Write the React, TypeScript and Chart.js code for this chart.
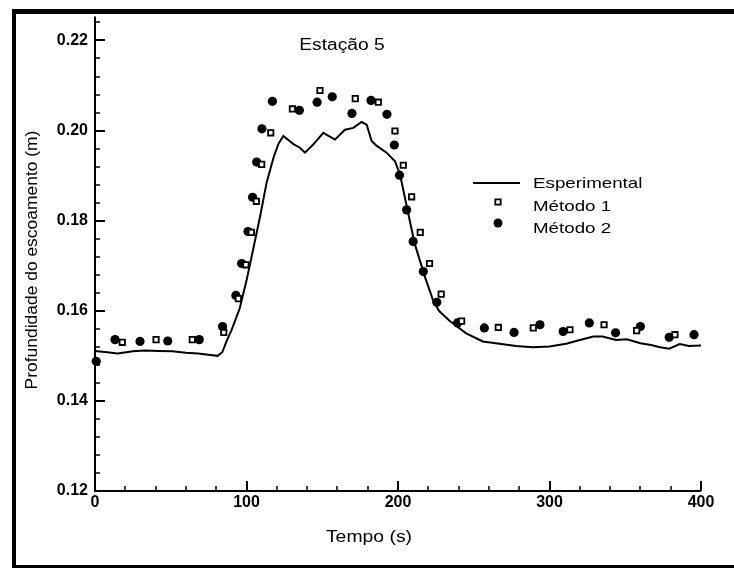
import { useEffect, useRef } from "react";
import { Chart, registerables } from "chart.js";

Chart.register(...registerables);

// ---------------- data ----------------
const chartTitle = "Estação 5";
const xAxisTitle = "Tempo (s)";
const yAxisTitle = "Profundidade do escoamento (m)";
const seriesNames = ["Esperimental", "Método 1", "Método 2"];

const xMajorTicks = [0, 100, 200, 300, 400];
const yMajorTicks = [0.12, 0.14, 0.16, 0.18, 0.2, 0.22];
const xMinorStep = 20;
const yMinorStep = 0.004;
const xRange = [0, 400];
const yRange = [0.12, 0.2253];

const expTime = [
  0, 8, 15, 25, 33, 42, 51, 60, 68, 76, 81, 84, 87, 90, 95.5, 100, 103.5, 109,
  113.3, 118, 121, 124.3, 131, 135.3, 138.6, 144, 150.7, 158.4, 165, 170.5, 176,
  179.3, 182.6, 186, 192.5, 198, 201.3, 206, 211, 218, 223, 227, 234, 245, 256,
  267, 278, 289, 300, 311, 320, 329, 335, 344, 351, 360, 367, 373, 379, 386, 392,
  400,
];
const expDepth = [
  0.1511, 0.1508, 0.1505, 0.151, 0.1512, 0.1511, 0.151, 0.1507, 0.1505, 0.1502,
  0.15, 0.1508, 0.1534, 0.1556, 0.1605, 0.1667, 0.1722, 0.181, 0.1885, 0.1942,
  0.197, 0.1988, 0.197, 0.1962, 0.1951, 0.1969, 0.1995, 0.198, 0.2002, 0.2006,
  0.2019, 0.2013, 0.1977, 0.1966, 0.1951, 0.1932, 0.1903, 0.1828, 0.1749, 0.1673,
  0.1625, 0.16, 0.1578, 0.155, 0.1532, 0.1527, 0.1522, 0.1519, 0.1521, 0.1527,
  0.1535, 0.1543, 0.1543, 0.1535, 0.1537, 0.1528, 0.1524, 0.1519, 0.1516, 0.1526,
  0.1522, 0.1523,
];

const m1Time = [
  18, 40.3, 64.2, 85, 94.6, 99.6, 103.2, 106.5, 110, 116, 130.3, 148.5, 171.8,
  187, 198, 203.5, 209, 214.7, 220.8, 228.5, 242, 266.2, 289.3, 313.5, 336,
  357.5, 382.8,
];
const m1Depth = [
  0.153, 0.1536, 0.1536, 0.1552, 0.1627, 0.1702, 0.1774, 0.1843, 0.1925, 0.1995,
  0.2048, 0.2089, 0.2071, 0.2063, 0.1999, 0.1923, 0.1853, 0.1774, 0.1705, 0.1637,
  0.1577, 0.1563, 0.1562, 0.1558, 0.1569, 0.1556, 0.1547,
];

const m2Time = [
  0.8, 13.2, 29.7, 48, 68.8, 84.2, 93, 96.8, 101, 104, 106.7, 110.2, 117.1,
  134.9, 146.6, 156.6, 169.6, 182.2, 192.7, 197.6, 201, 205.7, 210, 216.7, 225.6,
  239.3, 257, 276.6, 293.7, 309, 326.3, 343.6, 360, 379, 395.4,
];
const m2Depth = [
  0.1488, 0.1536, 0.1532, 0.1533, 0.1536, 0.1565, 0.1634, 0.1705, 0.1776, 0.1852,
  0.193, 0.2004, 0.2065, 0.2045, 0.2063, 0.2075, 0.2038, 0.2067, 0.2036, 0.1968,
  0.1901, 0.1824, 0.1754, 0.1687, 0.1619, 0.1573, 0.1562, 0.1552, 0.1569, 0.1554,
  0.1573, 0.1551, 0.1565, 0.1541, 0.1547,
];

// ---------------- styling helpers ----------------
const FONT = '"Liberation Sans", Arial, Helvetica, sans-serif';

function drawText(
  ctx: CanvasRenderingContext2D,
  text: string,
  x: number,
  y: number,
  size: number,
  sx: number,
  align: CanvasTextAlign,
  rotate = 0
) {
  ctx.save();
  ctx.font = `normal ${size}px ${FONT}`;
  ctx.fillStyle = "#000";
  ctx.textAlign = align;
  ctx.textBaseline = "alphabetic";
  ctx.translate(x, y);
  if (rotate) ctx.rotate(rotate);
  ctx.scale(sx, 1);
  ctx.fillText(text, 0, 0);
  ctx.restore();
}

const decorPlugin = {
  id: "decor",
  afterDraw(chart: any) {
    const ctx: CanvasRenderingContext2D = chart.ctx;
    const xs = chart.scales.x;
    const ys = chart.scales.y;
    const area = chart.chartArea;
    const x0 = xs.getPixelForValue(xRange[0]);
    const x1 = xs.getPixelForValue(xRange[1]);
    const y0 = ys.getPixelForValue(yRange[0]);

    ctx.save();
    ctx.strokeStyle = "#000";
    ctx.lineCap = "butt";
    // axes
    ctx.lineWidth = 2;
    ctx.beginPath();
    ctx.moveTo(x0, area.top);
    ctx.lineTo(x0, y0);
    ctx.lineTo(x1, y0);
    ctx.stroke();

    // x ticks (inward)
    for (let v = xRange[0]; v <= xRange[1] + 1e-9; v += xMinorStep) {
      const major = xMajorTicks.some((t) => Math.abs(t - v) < 1e-6);
      const px = Math.round(xs.getPixelForValue(v));
      ctx.lineWidth = major ? 2 : 1.5;
      ctx.beginPath();
      ctx.moveTo(px, y0);
      ctx.lineTo(px, y0 - (major ? 10 : 5));
      ctx.stroke();
    }
    // y ticks (inward)
    for (let i = 0; ; i++) {
      const v = yRange[0] + i * yMinorStep;
      if (v > yRange[1] + 1e-9) break;
      const major = yMajorTicks.some((t) => Math.abs(t - v) < 1e-6);
      const py = Math.round(ys.getPixelForValue(v));
      ctx.lineWidth = major ? 2 : 1.5;
      ctx.beginPath();
      ctx.moveTo(x0, py);
      ctx.lineTo(x0 + (major ? 10 : 5), py);
      ctx.stroke();
    }

    // legend
    ctx.lineWidth = 2;
    ctx.beginPath();
    ctx.moveTo(473, 183);
    ctx.lineTo(520, 183);
    ctx.stroke();
    ctx.lineWidth = 1.8;
    ctx.fillStyle = "#fff";
    ctx.beginPath();
    ctx.rect(498 - 2.7, 202 - 2.7, 5.4, 5.4);
    ctx.fill();
    ctx.stroke();
    ctx.fillStyle = "#000";
    ctx.beginPath();
    ctx.arc(498, 223, 4.5, 0, Math.PI * 2);
    ctx.fill();
    ctx.restore();

    drawText(ctx, seriesNames[0], 533, 188, 15, 1.25, "left");
    drawText(ctx, seriesNames[1], 533, 211, 15, 1.25, "left");
    drawText(ctx, seriesNames[2], 533, 233, 15, 1.25, "left");

    // titles
    drawText(ctx, chartTitle, 342, 50, 16, 1.2, "center");
    drawText(ctx, xAxisTitle, 369, 542, 17, 1.14, "center");
    drawText(ctx, yAxisTitle, 37, 260, 16, 1.09, "center", -Math.PI / 2);
  },
};

export default function App() {
  const ref = useRef<HTMLCanvasElement | null>(null);

  useEffect(() => {
    const canvas = ref.current;
    if (!canvas) return;
    const tickFont = { family: FONT, size: 16, weight: "bold" as const };
    const chart = new Chart(canvas, {
      type: "scatter",
      data: {
        datasets: [
          {
            label: seriesNames[0],
            data: expTime.map((t, i) => ({ x: t, y: expDepth[i] })),
            showLine: true,
            borderColor: "#000",
            backgroundColor: "#000",
            borderWidth: 2,
            pointRadius: 0,
            tension: 0,
            order: 2,
          },
          {
            label: seriesNames[1],
            data: m1Time.map((t, i) => ({ x: t, y: m1Depth[i] })),
            pointStyle: "rect",
            pointRadius: 3.8,
            borderColor: "#000",
            backgroundColor: "#fff",
            borderWidth: 1.8,
            clip: false,
            order: 0,
          },
          {
            label: seriesNames[2],
            data: m2Time.map((t, i) => ({ x: t, y: m2Depth[i] })),
            pointStyle: "circle",
            pointRadius: 4.6,
            borderColor: "#000",
            backgroundColor: "#000",
            borderWidth: 0,
            clip: false,
            order: 1,
          },
        ] as any,
      },
      options: {
        responsive: false,
        animation: false,
        devicePixelRatio: 1,
        events: [],
        layout: { padding: { top: 15, right: 33, left: 0, bottom: 0 } },
        plugins: {
          legend: { display: false },
          title: { display: false },
          tooltip: { enabled: false },
        },
        scales: {
          x: {
            type: "linear",
            position: "bottom",
            min: xRange[0],
            max: xRange[1],
            afterFit: (s: any) => {
              s.height = 77;
            },
            afterBuildTicks: (s: any) => {
              s.ticks = xMajorTicks.map((v) => ({ value: v }));
            },
            grid: { display: false, drawTicks: false },
            border: { display: false },
            ticks: {
              font: tickFont,
              color: "#000",
              padding: 2,
              maxRotation: 0,
              autoSkip: false,
              callback: (v: any) => String(v),
            },
          },
          y: {
            type: "linear",
            position: "left",
            min: yRange[0],
            max: yRange[1],
            afterFit: (s: any) => {
              s.width = 95;
            },
            afterBuildTicks: (s: any) => {
              s.ticks = yMajorTicks.map((v) => ({ value: v }));
            },
            grid: { display: false, drawTicks: false },
            border: { display: false },
            ticks: {
              font: tickFont,
              color: "#000",
              padding: 7,
              autoSkip: false,
              callback: (v: any) => Number(v).toFixed(2),
            },
          },
        },
      } as any,
      plugins: [decorPlugin],
    });
    return () => chart.destroy();
  }, []);

  return (
    <div
      style={{
        position: "fixed",
        left: 0,
        top: 0,
        width: 734,
        height: 568,
        overflow: "hidden",
        background: "#fff",
      }}
    >
      <canvas
        ref={ref}
        width={734}
        height={568}
        style={{ position: "absolute", left: 0, top: 0, width: 734, height: 568 }}
      />
      <div
        style={{
          position: "absolute",
          left: 12,
          top: 9,
          width: 780,
          height: 561,
          boxSizing: "border-box",
          borderLeft: "4px solid #000",
          borderTop: "5px solid #000",
          borderBottom: "5px solid #000",
          pointerEvents: "none",
        }}
      />
    </div>
  );
}
